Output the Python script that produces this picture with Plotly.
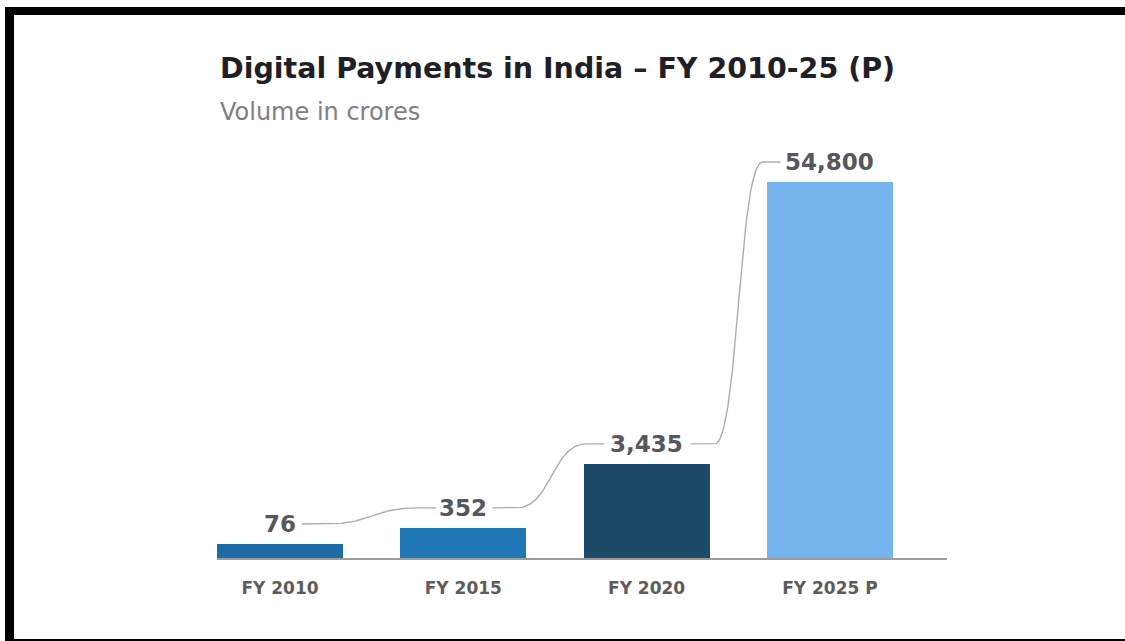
import numpy as np
import plotly.graph_objects as go

# ---- data ----
categories = ["FY 2010", "FY 2015", "FY 2020", "FY 2025 P"]
values = [76, 352, 3435, 54800]          # volume in crores
value_labels = ["76", "352", "3,435", "54,800"]
bar_colors = ["#1c6aa6", "#2079b6", "#1e4a69", "#76b4ee"]

title = "Digital Payments in India – FY 2010-25 (P)"
subtitle = "Volume in crores"

FONT = "DejaVu Sans"

# ---- geometry ----
W, H = 1125, 641
L, R, T, B = 217, 178, 150, 83
plot_w = W - L - R
plot_h = H - T - B

# reference uses a compressed (≈ square-root) value scale
heights = np.sqrt(np.array(values, dtype=float))
y_top = heights.max() * plot_h / 376.0
x_unit_px = 183.3
x0 = -(280 - L) / x_unit_px
x1 = x0 + plot_w / x_unit_px
xpp = 1.0 / x_unit_px          # data x per px
ypp = y_top / plot_h           # data y per px

xs = np.arange(len(categories), dtype=float)
label_y = heights + 20 * ypp
half_w_px = [7.4 * len(s) for s in value_labels]

fig = go.Figure()
fig.add_trace(go.Bar(
    x=xs, y=heights, width=0.687,
    marker=dict(color=bar_colors, line=dict(width=0)),
    hoverinfo="skip", showlegend=False,
))

# connector curves between value labels
for i in range(len(xs) - 1):
    sx = xs[i] + (half_w_px[i] + 7) * xpp
    h1 = sx + 24 * xpp
    ex = xs[i + 1] - (half_w_px[i + 1] + 5) * xpp
    h2 = ex - 18 * xpp
    ya, yb = label_y[i], label_y[i + 1]
    t = np.linspace(0, 1, 60)
    mx = (h1 + h2) / 2
    bx = (1 - t) ** 3 * h1 + 3 * (1 - t) ** 2 * t * mx + 3 * (1 - t) * t ** 2 * mx + t ** 3 * h2
    by = (1 - t) ** 3 * ya + 3 * (1 - t) ** 2 * t * ya + 3 * (1 - t) * t ** 2 * yb + t ** 3 * yb
    cx = np.concatenate([[sx], bx, [ex]])
    cy = np.concatenate([[ya], by, [yb]])
    fig.add_trace(go.Scatter(
        x=cx, y=cy, mode="lines",
        line=dict(color="#b3aca6", width=1.4, shape="linear"),
        hoverinfo="skip", showlegend=False,
    ))

annotations = []
for i, s in enumerate(value_labels):
    annotations.append(dict(
        x=xs[i], y=label_y[i], xref="x", yref="y", text=s, showarrow=False,
        xanchor="center", yanchor="middle",
        font=dict(family=FONT, size=23, color="#56565f", weight="bold"),
    ))

annotations.append(dict(
    x=0.001, y=(H - B - 68) / plot_h, xref="paper", yref="paper", text=title,
    showarrow=False, xanchor="left", yanchor="middle",
    font=dict(family=FONT, size=28.5, color="#1f1f28", weight="bold"),
))
annotations.append(dict(
    x=0.001, y=(H - B - 112) / plot_h, xref="paper", yref="paper", text=subtitle,
    showarrow=False, xanchor="left", yanchor="middle",
    font=dict(family=FONT, size=24, color="#808080"),
))

# black frame around the picture
def px(xp):
    return (xp - L) / plot_w

def py(yp):
    return (H - B - yp) / plot_h

shapes = [
    dict(type="rect", xref="paper", yref="paper", x0=px(5), x1=px(W + 5), y0=py(15), y1=py(7),
         fillcolor="#000000", line=dict(width=0), layer="above"),
    dict(type="rect", xref="paper", yref="paper", x0=px(5), x1=px(14), y0=py(H + 5), y1=py(7),
         fillcolor="#000000", line=dict(width=0), layer="above"),
    dict(type="rect", xref="paper", yref="paper", x0=px(5), x1=px(W + 5), y0=py(H + 5), y1=py(639),
         fillcolor="#000000", line=dict(width=0), layer="above"),
]

fig.update_layout(
    width=W, height=H,
    margin=dict(l=L, r=R, t=T, b=B),
    paper_bgcolor="#ffffff", plot_bgcolor="#ffffff",
    bargap=0,
    annotations=annotations,
    shapes=shapes,
    xaxis=dict(
        range=[x0, x1], tickmode="array", tickvals=xs, ticktext=categories,
        showgrid=False, zeroline=False, showline=True, linecolor="#9c9c9c", linewidth=1.6,
        ticks="", ticklabelstandoff=14, fixedrange=True,
        tickfont=dict(family=FONT, size=17, color="#5c5c5c", weight="bold"),
    ),
    yaxis=dict(
        range=[0, y_top], visible=False, showgrid=False, zeroline=False, fixedrange=True,
    ),
)

fig.write_html(
    "out.html",
    config={"displayModeBar": False},
    post_script="document.body.style.margin='0';document.body.style.overflow='hidden';",
)
